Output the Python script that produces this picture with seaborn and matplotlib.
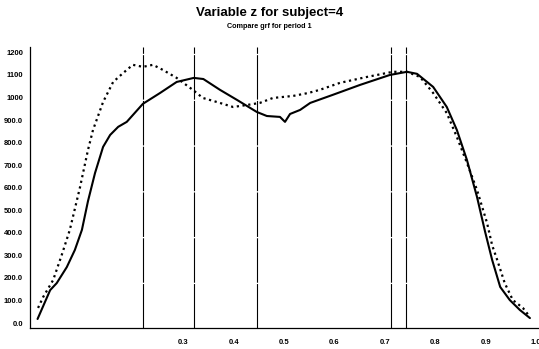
import matplotlib
matplotlib.use("Agg")
import matplotlib.pyplot as plt
import seaborn as sns
import pandas as pd

# --- data ---
solid_x = [0.011, 0.036, 0.049, 0.069, 0.085, 0.099, 0.111, 0.125, 0.141, 0.155,
           0.171, 0.188, 0.220, 0.254, 0.287, 0.321, 0.340, 0.373, 0.407, 0.446,
           0.466, 0.492, 0.502, 0.512, 0.532, 0.552, 0.597, 0.651, 0.710, 0.744,
           0.764, 0.796, 0.823, 0.843, 0.863, 0.883, 0.899, 0.913, 0.929, 0.948,
           0.968, 0.988]
solid_y = [18, 146, 177, 248, 324, 413, 540, 665, 781, 834,
           870, 892, 972, 1020, 1069, 1087, 1082, 1034, 989, 936,
           918, 914, 892, 927, 945, 976, 1012, 1056, 1100, 1114,
           1105, 1047, 958, 856, 723, 559, 405, 280, 160, 102,
           58, 22]

dotted_x = [0.012, 0.022, 0.042, 0.059, 0.075, 0.095, 0.111, 0.121, 0.141, 0.161,
            0.181, 0.200, 0.220, 0.240, 0.260, 0.287, 0.319, 0.339, 0.367, 0.399,
            0.427, 0.452, 0.478, 0.518, 0.548, 0.571, 0.611, 0.664, 0.716, 0.744,
            0.770, 0.796, 0.823, 0.843, 0.863, 0.883, 0.903, 0.913, 0.923, 0.938,
            0.954, 0.974, 0.988]
dotted_y = [67, 115, 191, 302, 413, 600, 767, 856, 980, 1069,
            1109, 1145, 1136, 1145, 1122, 1087, 1034, 998, 980, 958,
            967, 976, 998, 1007, 1020, 1034, 1065, 1091, 1114, 1114,
            1091, 1020, 931, 825, 710, 590, 443, 345, 280, 177,
            102, 67, 27]

vline_x = [0.220, 0.321, 0.446, 0.712, 0.742]

x_ticks = [0.0, 0.1, 0.2, 0.3, 0.4, 0.5, 0.6, 0.7, 0.8, 0.9, 1.0]
x_labels = ["", "", "", "0.3", "0.4", "0.5", "0.6", "0.7", "0.8", "0.9", "1.0"]
y_ticks = [0, 100, 200, 300, 400, 500, 600, 700, 800, 900, 1000, 1100, 1200]
y_labels = ["0.0", "100.0", "200.0", "300.0", "400.0", "500.0", "600.0",
            "700.0", "800.0", "900.0", "1000", "1100", "1200"]

title = "Variable z for subject=4"
subtitle = "Compare grf for period 1"

# --- plot ---
sns.set_style("white")
plt.rcParams['font.family'] = ['Liberation Sans', 'DejaVu Sans']
plt.rcParams['text.color'] = 'black'
plt.rcParams['xtick.color'] = 'black'
plt.rcParams['ytick.color'] = 'black'

fig = plt.figure(figsize=(5.39, 3.49), dpi=100)
ax = fig.add_axes([30/539, (349-328)/349, (538-30)/539, (328-47)/349])

df_s = pd.DataFrame({"x": solid_x, "y": solid_y})
df_d = pd.DataFrame({"x": dotted_x, "y": dotted_y})
sns.lineplot(data=df_s, x="x", y="y", ax=ax, color="black", linewidth=1.5,
             estimator=None, sort=False)
sns.lineplot(data=df_d, x="x", y="y", ax=ax, color="black", linewidth=1.6,
             linestyle=(0, (1, 1.6)), estimator=None, sort=False)

for v in vline_x:
    ax.axvline(v, color="black", linewidth=0.8, linestyle=(0, (40, 1.2)))

ax.set_xlim(-0.004, 1.004)
ax.set_ylim(-22, 1224)
ax.set_xticks(x_ticks)
ax.set_xticklabels(x_labels, fontsize=5.5, fontweight="bold", color="black")
ax.set_yticks(y_ticks)
ax.set_yticklabels(y_labels, fontsize=5.5, fontweight="bold", color="black")
ax.tick_params(axis="x", direction="out", length=3, width=0.8, pad=5, color="black")
ax.tick_params(axis="y", direction="out", length=3, width=0.8, pad=2, color="black")
ax.set_xlabel("")
ax.set_ylabel("")
for s in ["top", "right"]:
    ax.spines[s].set_visible(False)
for s in ["left", "bottom"]:
    ax.spines[s].set_color("black")
    ax.spines[s].set_linewidth(0.9)

fig.text(0.5, 1 - 13/349, title, ha="center", va="center",
         fontsize=9.5, fontweight="bold", color="black")
fig.text(0.5, 1 - 27/349, subtitle, ha="center", va="center",
         fontsize=5.2, fontweight="bold", color="black")

fig.savefig("out.png", dpi=100)
